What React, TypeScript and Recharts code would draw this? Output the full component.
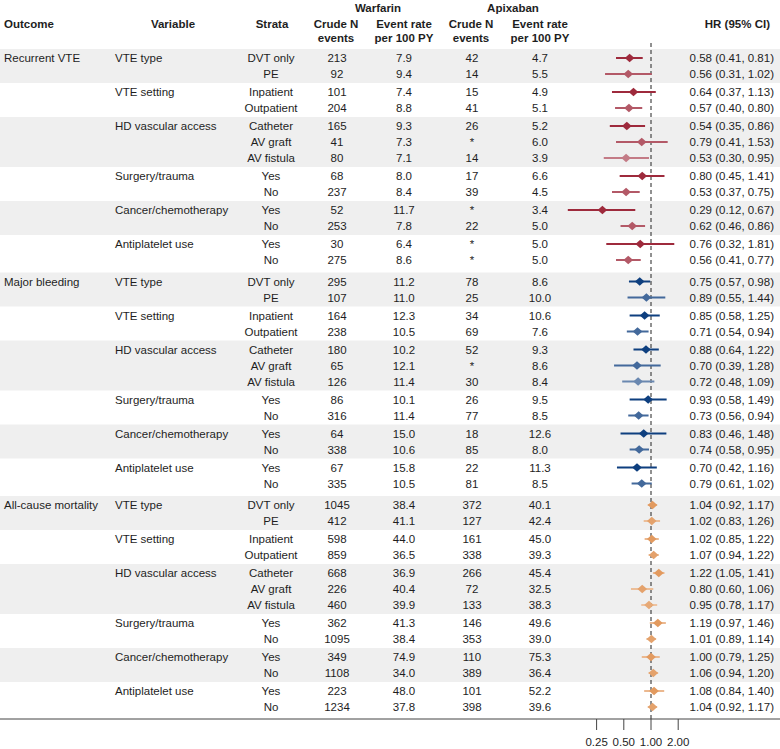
import {
  ScatterChart,
  Scatter,
  XAxis,
  YAxis,
  ErrorBar,
  ReferenceArea,
  ReferenceLine
} from "recharts";

const outcomes = ['Recurrent VTE', 'Major bleeding', 'All-cause mortality']
const variables = ['VTE type', 'VTE setting', 'HD vascular access', 'Surgery/trauma', 'Cancer/chemotherapy', 'Antiplatelet use']
const strata = [
  ['DVT only', 'PE'],
  ['Inpatient', 'Outpatient'],
  ['Catheter', 'AV graft', 'AV fistula'],
  ['Yes', 'No'],
  ['Yes', 'No'],
  ['Yes', 'No'],
]

// one entry per outcome, 13 strata each (same order as above)
const warfarinN = [
  [213, 92, 101, 204, 165, 41, 80, 68, 237, 52, 253, 30, 275],
  [295, 107, 164, 238, 180, 65, 126, 86, 316, 64, 338, 67, 335],
  [1045, 412, 598, 859, 668, 226, 460, 362, 1095, 349, 1108, 223, 1234],
]
const warfarinRate = [
  [7.9, 9.4, 7.4, 8.8, 9.3, 7.3, 7.1, 8.0, 8.4, 11.7, 7.8, 6.4, 8.6],
  [11.2, 11.0, 12.3, 10.5, 10.2, 12.1, 11.4, 10.1, 11.4, 15.0, 10.6, 15.8, 10.5],
  [38.4, 41.1, 44.0, 36.5, 36.9, 40.4, 39.9, 41.3, 38.4, 74.9, 34.0, 48.0, 37.8],
]
const apixabanN = [
  ['42', '14', '15', '41', '26', '*', '14', '17', '39', '*', '22', '*', '*'],
  ['78', '25', '34', '69', '52', '*', '30', '26', '77', '18', '85', '22', '81'],
  ['372', '127', '161', '338', '266', '72', '133', '146', '353', '110', '389', '101', '398'],
]
const apixabanRate = [
  [4.7, 5.5, 4.9, 5.1, 5.2, 6.0, 3.9, 6.6, 4.5, 3.4, 5.0, 5.0, 5.0],
  [8.6, 10.0, 10.6, 7.6, 9.3, 8.6, 8.4, 9.5, 8.5, 12.6, 8.0, 11.3, 8.5],
  [40.1, 42.4, 45.0, 39.3, 45.4, 32.5, 38.3, 49.6, 39.0, 75.3, 36.4, 52.2, 39.6],
]
const hr = [
  [0.58, 0.56, 0.64, 0.57, 0.54, 0.79, 0.53, 0.80, 0.53, 0.29, 0.62, 0.76, 0.56],
  [0.75, 0.89, 0.85, 0.71, 0.88, 0.70, 0.72, 0.93, 0.73, 0.83, 0.74, 0.70, 0.79],
  [1.04, 1.02, 1.02, 1.07, 1.22, 0.80, 0.95, 1.19, 1.01, 1.00, 1.06, 1.08, 1.04],
]
const hrLow = [
  [0.41, 0.31, 0.37, 0.40, 0.35, 0.41, 0.30, 0.45, 0.37, 0.12, 0.46, 0.32, 0.41],
  [0.57, 0.55, 0.58, 0.54, 0.64, 0.39, 0.48, 0.58, 0.56, 0.46, 0.58, 0.42, 0.61],
  [0.92, 0.83, 0.85, 0.94, 1.05, 0.60, 0.78, 0.97, 0.89, 0.79, 0.94, 0.84, 0.92],
]
const hrHigh = [
  [0.81, 1.02, 1.13, 0.80, 0.86, 1.53, 0.95, 1.41, 0.75, 0.67, 0.86, 1.81, 0.77],
  [0.98, 1.44, 1.25, 0.94, 1.22, 1.28, 1.09, 1.49, 0.94, 1.48, 0.95, 1.16, 1.02],
  [1.17, 1.26, 1.22, 1.22, 1.41, 1.06, 1.17, 1.46, 1.14, 1.25, 1.20, 1.40, 1.17],
]
const xTicks = [0.25, 0.5, 1, 2]

const outcomeColors = ['#9e2a3c', '#0e3f7f', '#e29a5f']
const lineMix = [0, 0, 0.3]
const levelMix = [[0, 0.22, 0.38], [0, 0.22, 0.38], [0, 0.08, 0.15]]
const FONT = "'Liberation Sans', Arial, Helvetica, sans-serif"
const FS = 11.5
const TXT = '#1e1e1e'

const mix = (hex: string, t: number) => {
  const n = parseInt(hex.slice(1), 16)
  const ch = [(n >> 16) & 255, (n >> 8) & 255, n & 255].map(c => Math.round(c + (255 - c) * t))
  return '#' + ch.map(c => c.toString(16).padStart(2, '0')).join('')
}

// row layout, in units of one row (16px)
type Row = {
  x: number, y: number, oi: number, level: number,
  outcome: string, variable: string, stratum: string,
  wN: string, wRate: string, aN: string, aRate: string,
  hr: number, err: [number, number], hrText: string
}
const rows: Row[] = []
const bands: [number, number][] = []
let pos = 0
outcomes.forEach((outcome, oi) => {
  let k = 0
  variables.forEach((variable, vi) => {
    let start = 0
    strata[vi].forEach((s, si) => {
      if (rows.length > 0) pos += si > 0 ? 1 : vi === 0 ? 21.5 / 16 : 18 / 16
      if (si === 0) start = pos
      const h = hr[oi][k], lo = hrLow[oi][k], hi = hrHigh[oi][k]
      rows.push({
        x: h, y: pos, oi, level: si,
        outcome: vi === 0 && si === 0 ? outcome : '',
        variable: si === 0 ? variable : '',
        stratum: s,
        wN: String(warfarinN[oi][k]),
        wRate: warfarinRate[oi][k].toFixed(1),
        aN: apixabanN[oi][k],
        aRate: apixabanRate[oi][k].toFixed(1),
        hr: h,
        err: [h - lo, hi - h],
        hrText: `${h.toFixed(2)} (${lo.toFixed(2)}, ${hi.toFixed(2)})`,
      })
      k++
    })
    if (vi % 2 === 0) bands.push([start - 9 / 16, pos + 9 / 16])
  })
})

const TOP = 42
const BOTTOM = 719
const yDomain = [-1, (BOTTOM - TOP) / 16 - 1]
// log2 scale: 1.00 sits at x=651, 27.2px per doubling, axis spans the full width
const xDomain = [Math.pow(2, -651 / 27.2), Math.pow(2, (780 - 651) / 27.2)]

const textProps = { fontFamily: FONT, fontSize: FS, fill: TXT, dominantBaseline: 'central' as const }

const TableRow = (props: any) => {
  const r: Row = props.payload ?? props
  const cy = props.cy
  if (cy == null) return <g />
  return (
    <g>
      <text {...textProps} x={4} y={cy}>{r.outcome}</text>
      <text {...textProps} x={115} y={cy}>{r.variable}</text>
      <text {...textProps} x={271} y={cy} textAnchor="middle">{r.stratum}</text>
      <text {...textProps} x={337} y={cy} textAnchor="middle">{r.wN}</text>
      <text {...textProps} x={404} y={cy} textAnchor="middle">{r.wRate}</text>
      <text {...textProps} x={472} y={cy} textAnchor="middle">{r.aN}</text>
      <text {...textProps} x={540} y={cy} textAnchor="middle">{r.aRate}</text>
      <text {...textProps} x={774} y={cy} textAnchor="end">{r.hrText}</text>
    </g>
  )
}

const diamond = (color: string) => (props: any) => {
  const { cx, cy } = props
  if (cx == null || cy == null) return <g />
  return <polygon points={`${cx - 4.8},${cy} ${cx},${cy - 4.2} ${cx + 4.8},${cy} ${cx},${cy + 4.2}`} fill={color} />
}

const Header = () => {
  const b = { fontFamily: FONT, fontSize: FS, fontWeight: 700, fill: TXT, dominantBaseline: 'central' as const }
  return (
    <svg width={780} height={46} style={{ position: 'absolute', left: 0, top: 0, pointerEvents: 'none' }}>
      <text {...b} x={378} y={8} textAnchor="middle">Warfarin</text>
      <text {...b} x={513} y={8} textAnchor="middle">Apixaban</text>
      <text {...b} x={4} y={24}>Outcome</text>
      <text {...b} x={173} y={24} textAnchor="middle">Variable</text>
      <text {...b} x={272} y={24} textAnchor="middle">Strata</text>
      <text {...b} x={336} y={24} textAnchor="middle">Crude N</text>
      <text {...b} x={336} y={38} textAnchor="middle">events</text>
      <text {...b} x={404} y={24} textAnchor="middle">Event rate</text>
      <text {...b} x={404} y={38} textAnchor="middle">per 100 PY</text>
      <text {...b} x={471} y={24} textAnchor="middle">Crude N</text>
      <text {...b} x={471} y={38} textAnchor="middle">events</text>
      <text {...b} x={540} y={24} textAnchor="middle">Event rate</text>
      <text {...b} x={540} y={38} textAnchor="middle">per 100 PY</text>
      <text {...b} x={770} y={24} textAnchor="end">HR (95% CI)</text>
    </svg>
  )
}

const series = outcomes.flatMap((_, oi) =>
  [0, 1, 2].map(level => {
    const t = levelMix[oi][level]
    return {
      oi, level,
      data: rows.filter(r => r.oi === oi && r.level === level),
      color: mix(outcomeColors[oi], t),
      line: mix(outcomeColors[oi], t + (1 - t) * lineMix[oi]),
    }
  })
).filter(s => s.data.length > 0)

const App = () => {
  return (
    <div style={{ position: 'absolute', left: 0, top: 0, width: 780, height: 749, background: '#fff' }}>
      <ScatterChart width={780} height={749} margin={{ top: TOP, right: 0, bottom: 0, left: 0 }}>
        {bands.map(([a, b], i) => (
          <ReferenceArea key={i} y1={a} y2={b} fill="#efefef" fillOpacity={1} stroke="none" />
        ))}
        <XAxis
          dataKey="x"
          type="number"
          scale="log"
          domain={xDomain}
          allowDataOverflow
          ticks={xTicks}
          tickFormatter={(v: number) => v.toFixed(2)}
          tickSize={11}
          tickMargin={8}
          height={30}
          stroke="#444"
          tick={{ fontFamily: FONT, fontSize: FS, fill: TXT }}
          interval={0}
        />
        <YAxis dataKey="y" type="number" domain={yDomain} reversed hide allowDataOverflow />
        <ReferenceLine x={1} stroke="#222" strokeDasharray="4 3" strokeWidth={1} />
        <Scatter data={rows} shape={TableRow} isAnimationActive={false} />
        {series.map(s => (
          <Scatter key={`${s.oi}-${s.level}`} data={s.data} shape={diamond(s.color)} isAnimationActive={false}>
            <ErrorBar dataKey="err" direction="x" width={0} stroke={s.line} strokeWidth={2} />
          </Scatter>
        ))}
      </ScatterChart>
      <Header />
    </div>
  )
}

export default App
